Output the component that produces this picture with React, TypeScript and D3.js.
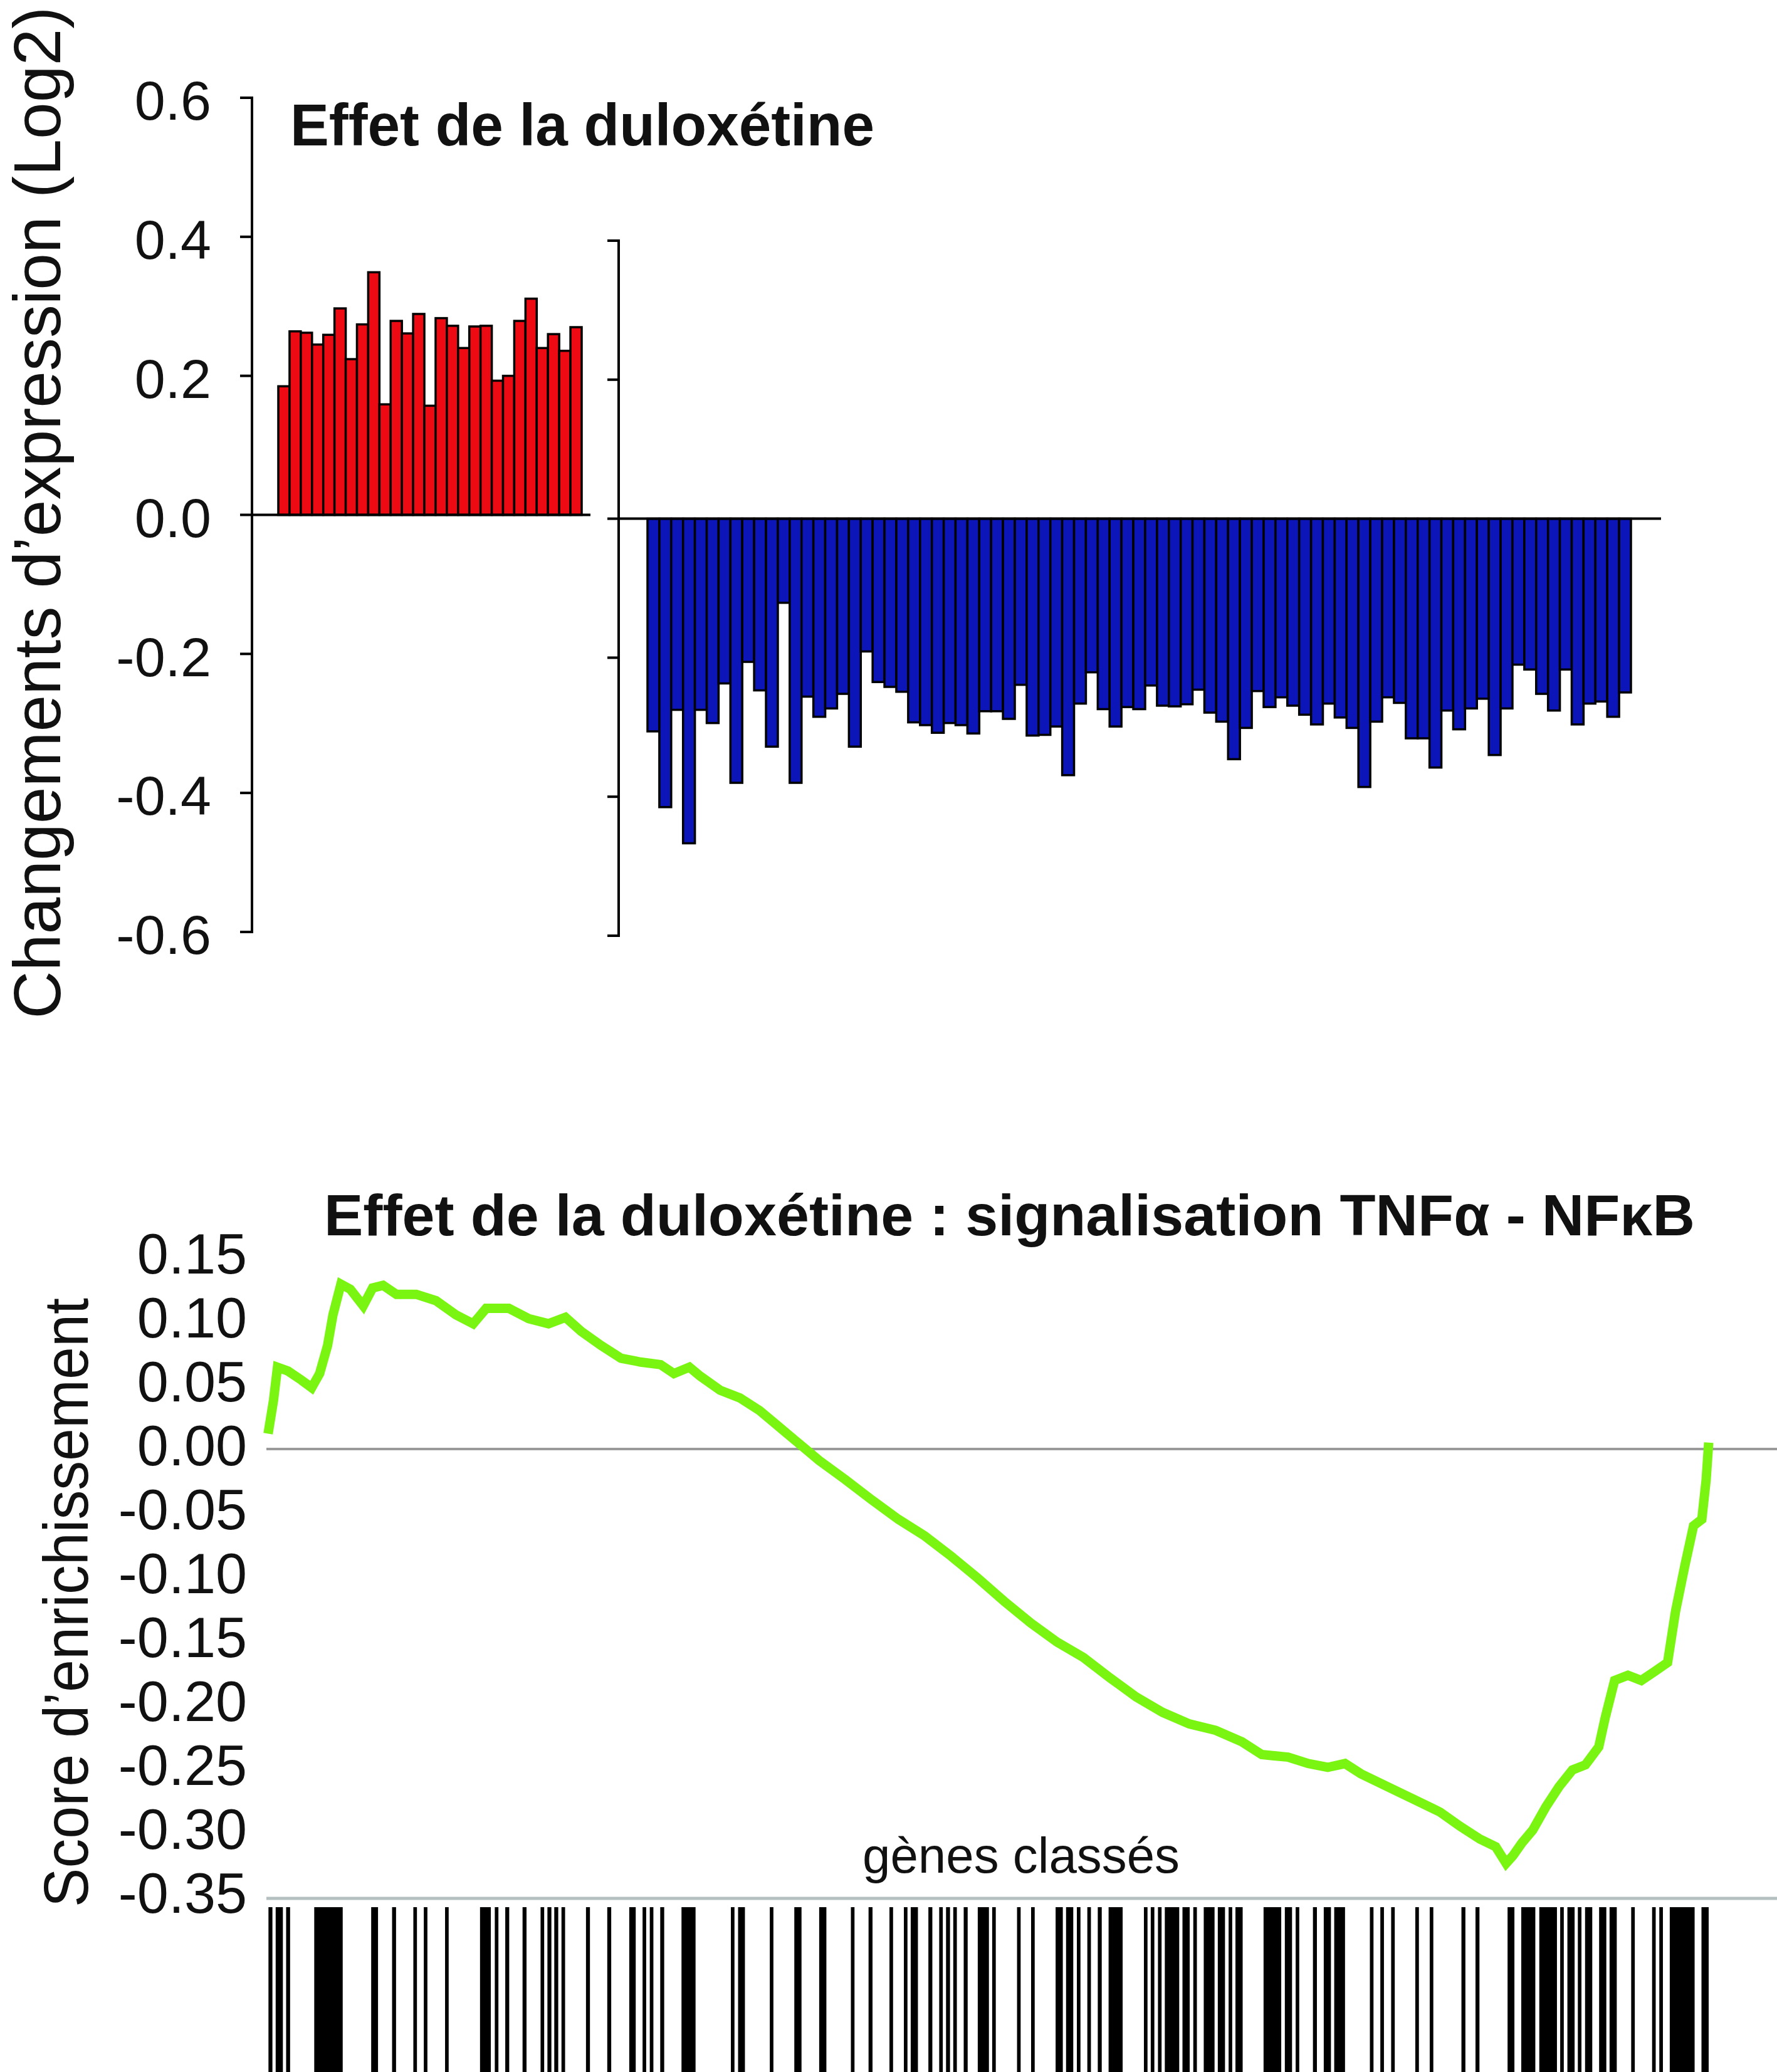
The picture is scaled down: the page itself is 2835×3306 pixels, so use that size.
import React from "react";
import * as d3 from "d3";

// ---------- Top panel data (log2 expression changes) ----------
const redValues = [
  0.185, 0.264, 0.262, 0.245, 0.259, 0.297, 0.224, 0.274, 0.349, 0.159,
  0.279, 0.261, 0.289, 0.157, 0.283, 0.272, 0.24, 0.271, 0.272, 0.193,
  0.2, 0.279, 0.311, 0.24, 0.26, 0.236, 0.27,
];
const blueValues = [
  -0.306, -0.415, -0.275, -0.467, -0.275, -0.294, -0.237, -0.38, -0.206, -0.247,
  -0.328, -0.121, -0.38, -0.256, -0.285, -0.273, -0.252, -0.328, -0.191, -0.235,
  -0.242, -0.249, -0.293, -0.297, -0.308, -0.294, -0.297, -0.309, -0.277, -0.277,
  -0.288, -0.239, -0.312, -0.311, -0.299, -0.369, -0.266, -0.221, -0.274, -0.299,
  -0.271, -0.274, -0.24, -0.269, -0.27, -0.267, -0.246, -0.279, -0.292, -0.346,
  -0.301, -0.248, -0.271, -0.257, -0.269, -0.282, -0.296, -0.266, -0.286, -0.301,
  -0.386, -0.292, -0.257, -0.265, -0.316, -0.316, -0.358, -0.276, -0.303, -0.273,
  -0.259, -0.34, -0.273, -0.21, -0.217, -0.252, -0.276, -0.217, -0.296, -0.266,
  -0.263, -0.285, -0.25,
];
const leftTicks = [0.6, 0.4, 0.2, 0, -0.2, -0.4, -0.6];
const rightTicks = [0.4, 0.2, 0, -0.2, -0.4, -0.6];

// ---------- Bottom panel data (running enrichment score) ----------
const esRank = [
  0.3, 1.8, 2.9, 5.8, 9.5, 12.4, 14.6, 16.8, 18.3, 20.5, 23.1, 26.7, 29.3, 32.2,
  35.9, 41.4, 46.9, 52.4, 57.2, 60.8, 67.1, 72.6, 78.1, 82.8, 87.2, 92.7, 98.2,
  103.7, 109.2, 112.9, 117.2, 120.2, 125.7, 131.2, 136.7, 142.2, 147.7, 153.2,
  160.5, 167.9, 175.2, 182.5, 189.9, 197.2, 204.5, 211.9, 219.2, 226.5, 233.9,
  241.2, 248.5, 255.9, 263.2, 270.5, 276, 283.3, 288.9, 294.3, 299.1, 303.5,
  310.8, 318.2, 325.5, 331, 336.5, 340.9, 343.8, 345.7, 348.2, 351.2, 354.8,
  358.5, 362.2, 365.8, 369.5, 371.3, 373.9, 377.6, 381.3, 385, 388.6, 390.8,
  393.4, 395.8, 398.1, 399.3, 400,
];
const esValue = [
  0.012, 0.038, 0.064, 0.061, 0.054, 0.048, 0.059, 0.081, 0.105, 0.129, 0.125,
  0.112, 0.126, 0.128, 0.121, 0.121, 0.116, 0.105, 0.098, 0.11, 0.11, 0.102,
  0.098, 0.103, 0.092, 0.081, 0.071, 0.068, 0.066, 0.059, 0.064, 0.057, 0.046,
  0.04, 0.03, 0.017, 0.004, -0.009, -0.024, -0.04, -0.055, -0.068, -0.084,
  -0.101, -0.119, -0.136, -0.151, -0.163, -0.179, -0.194, -0.206, -0.215,
  -0.22, -0.229, -0.239, -0.241, -0.246, -0.249, -0.246, -0.254, -0.264,
  -0.274, -0.284, -0.295, -0.305, -0.311, -0.324, -0.318, -0.308, -0.298,
  -0.28, -0.264, -0.251, -0.247, -0.233, -0.21, -0.181, -0.177, -0.181,
  -0.174, -0.167, -0.127, -0.091, -0.06, -0.055, -0.024, 0.005,
];
const esTicks = [0.15, 0.1, 0.05, 0, -0.05, -0.1, -0.15, -0.2, -0.25, -0.3, -0.35];

// gene-set hits along the ranked list (start, end rank)
const hitSegments: [number, number][] = [
  [0.4, 1.5], [2.4, 4.4], [5.3, 6.4], [13.1, 21.0], [28.9, 30.8], [34.7, 35.8],
  [40.6, 41.6], [43.5, 44.5], [49.4, 50.4], [59.1, 62.1], [63.2, 64.2], [66.1, 67.2],
  [70.9, 72.0], [75.9, 76.9], [77.8, 78.9], [79.7, 80.8], [81.7, 82.7], [88.5, 89.6],
  [94.4, 95.5], [100.5, 102.3], [104.2, 105.2], [106.2, 107.2], [109.1, 110.2],
  [115.0, 118.9], [128.7, 129.7], [130.7, 132.6], [139.5, 140.5], [146.3, 148.3],
  [153.2, 155.2], [162.0, 163.0], [166.9, 168.0], [172.7, 173.7], [176.7, 177.7],
  [178.6, 180.6], [183.5, 184.6], [186.5, 187.5], [188.4, 189.5], [190.4, 191.4],
  [193.3, 194.4], [197.2, 200.3], [201.2, 202.2], [208.1, 209.1], [212.0, 213.0],
  [218.8, 220.8], [221.7, 223.7], [224.7, 225.7], [227.6, 228.6], [230.5, 231.6],
  [233.5, 237.4], [243.3, 244.3], [245.2, 246.2], [247.2, 248.2], [249.1, 253.1],
  [254.0, 256.0], [257.0, 258.0], [259.9, 262.9], [263.8, 265.8], [266.8, 267.8],
  [268.7, 270.7], [276.5, 281.4], [282.4, 284.4], [285.4, 286.4], [290.2, 291.3],
  [293.2, 295.2], [296.1, 299.1], [306.0, 307.0], [308.9, 309.9], [311.9, 312.9],
  [318.6, 319.6], [322.6, 323.6], [331.4, 332.5], [335.3, 336.4], [344.2, 346.1],
  [348.0, 351.9], [353.0, 357.9], [358.8, 359.8], [360.8, 362.8], [363.7, 364.7],
  [365.7, 367.7], [369.6, 371.6], [372.5, 374.5], [378.5, 379.5], [384.3, 385.3],
  [386.3, 387.3], [389.2, 396.1], [398.0, 400.0],
];

const FONT = "'Liberation Sans', Arial, Helvetica, sans-serif";
const W = 2835;
const H = 3306;

const fmt1 = (v: number) => d3.format(".1f")(v).replace("\u2212", "-");
const fmt2 = (v: number) => d3.format(".2f")(v).replace("\u2212", "-");

export default function App() {
  // top panels
  const yLeft = d3.scaleLinear().domain([-0.6, 0.6]).range([1487, 156]);
  const yRight = d3.scaleLinear().domain([-0.6, 0.4]).range([1493, 384]);
  const xRed = d3.scaleBand<number>().domain(d3.range(redValues.length)).range([444, 928]);
  const xBlue = d3.scaleBand<number>().domain(d3.range(blueValues.length)).range([1033, 2602]);
  const axL = 402;
  const axR = 987;

  // bottom panel
  const xRank = d3.scaleLinear().domain([0, 400]).range([426, 2726]);
  const yES = d3.scaleLinear().domain([-0.35, 0.15]).range([3026, 2006]);
  const esLine = d3
    .line<number>()
    .x((_, i) => xRank(esRank[i]))
    .y((d) => yES(d));
  const esPath = esLine(esValue) || "";

  const barStroke = 3.5;

  return (
    <div style={{ position: "absolute", left: 0, top: 0, width: W, height: H, overflow: "hidden", background: "#fff" }}>
      <svg width={W} height={H} viewBox={`0 0 ${W} ${H}`} style={{ display: "block" }} fontFamily={FONT}>
        <rect x={0} y={0} width={W} height={H} fill="#ffffff" />

        {/* ===== TOP: left panel ===== */}
        <text
          transform={`translate(96, 818) rotate(-90)`}
          textAnchor="middle"
          fontSize={105}
          textLength={1615}
          lengthAdjust="spacingAndGlyphs"
          fill="#111"
        >
          Changements d’expression (Log2)
        </text>

        <text x={463} y={232} fontSize={94} fontWeight="bold" textLength={932} lengthAdjust="spacingAndGlyphs" fill="#111">
          Effet de la duloxétine
        </text>

        {/* red bars */}
        {redValues.map((v, i) => (
          <rect
            key={"r" + i}
            x={xRed(i)}
            y={yLeft(v)}
            width={xRed.bandwidth()}
            height={yLeft(0) - yLeft(v)}
            fill="#ee0a12"
            stroke="#000"
            strokeWidth={barStroke}
          />
        ))}
        {/* left axis */}
        <line x1={axL} x2={axL} y1={yLeft(0.6) - 2} y2={yLeft(-0.6) + 2} stroke="#000" strokeWidth={4} />
        {leftTicks.map((t) => (
          <g key={"lt" + t}>
            <line x1={axL - 19} x2={axL} y1={yLeft(t)} y2={yLeft(t)} stroke="#000" strokeWidth={4} />
            <text x={337} y={yLeft(t)} dy="0.4em" textAnchor="end" fontSize={88} fill="#111">
              {fmt1(t)}
            </text>
          </g>
        ))}
        <line x1={axL} x2={942} y1={yLeft(0)} y2={yLeft(0)} stroke="#000" strokeWidth={4} />

        {/* ===== TOP: right panel ===== */}
        {blueValues.map((v, i) => (
          <rect
            key={"b" + i}
            x={xBlue(i)}
            y={yRight(0)}
            width={xBlue.bandwidth()}
            height={yRight(v) - yRight(0)}
            fill="#0c16b8"
            stroke="#000"
            strokeWidth={barStroke}
          />
        ))}
        <line x1={axR} x2={axR} y1={yRight(0.4) - 2} y2={yRight(-0.6) + 2} stroke="#000" strokeWidth={4} />
        {rightTicks.map((t) => (
          <line key={"rt" + t} x1={axR - 18} x2={axR} y1={yRight(t)} y2={yRight(t)} stroke="#000" strokeWidth={4} />
        ))}
        <line x1={axR} x2={2650} y1={yRight(0)} y2={yRight(0)} stroke="#000" strokeWidth={4} />

        {/* ===== BOTTOM: enrichment plot ===== */}
        <text x={517} y={1971} fontSize={92} fontWeight="bold" textLength={2187} lengthAdjust="spacingAndGlyphs" fill="#111">
          Effet de la duloxétine : signalisation TNFα - NFκB
        </text>

        <text
          transform={`translate(140, 2557) rotate(-90)`}
          textAnchor="middle"
          fontSize={100}
          textLength={972}
          lengthAdjust="spacingAndGlyphs"
          fill="#111"
        >
          Score d’enrichissement
        </text>

        {esTicks.map((t) => (
          <text key={"et" + t} x={394} y={yES(t) - 6} dy="0.36em" textAnchor="end" fontSize={90} fill="#111">
            {fmt2(t)}
          </text>
        ))}

        <line x1={425} x2={W} y1={yES(0)} y2={yES(0)} stroke="#9a9a9a" strokeWidth={4} />
        <line x1={425} x2={W} y1={yES(-0.35) + 3} y2={yES(-0.35) + 3} stroke="#b4c0c0" strokeWidth={5} />

        <path d={esPath} fill="none" stroke="#7af512" strokeWidth={15} strokeLinejoin="miter" strokeLinecap="butt" />

        <text x={1629} y={2988} textAnchor="middle" fontSize={80} textLength={506} lengthAdjust="spacingAndGlyphs" fill="#111">
          gènes classés
        </text>

        {/* barcode */}
        {hitSegments.map(([s, e], i) => (
          <rect key={"h" + i} x={xRank(s)} y={3043} width={xRank(e) - xRank(s)} height={H - 3043} fill="#000" />
        ))}
      </svg>
    </div>
  );
}
